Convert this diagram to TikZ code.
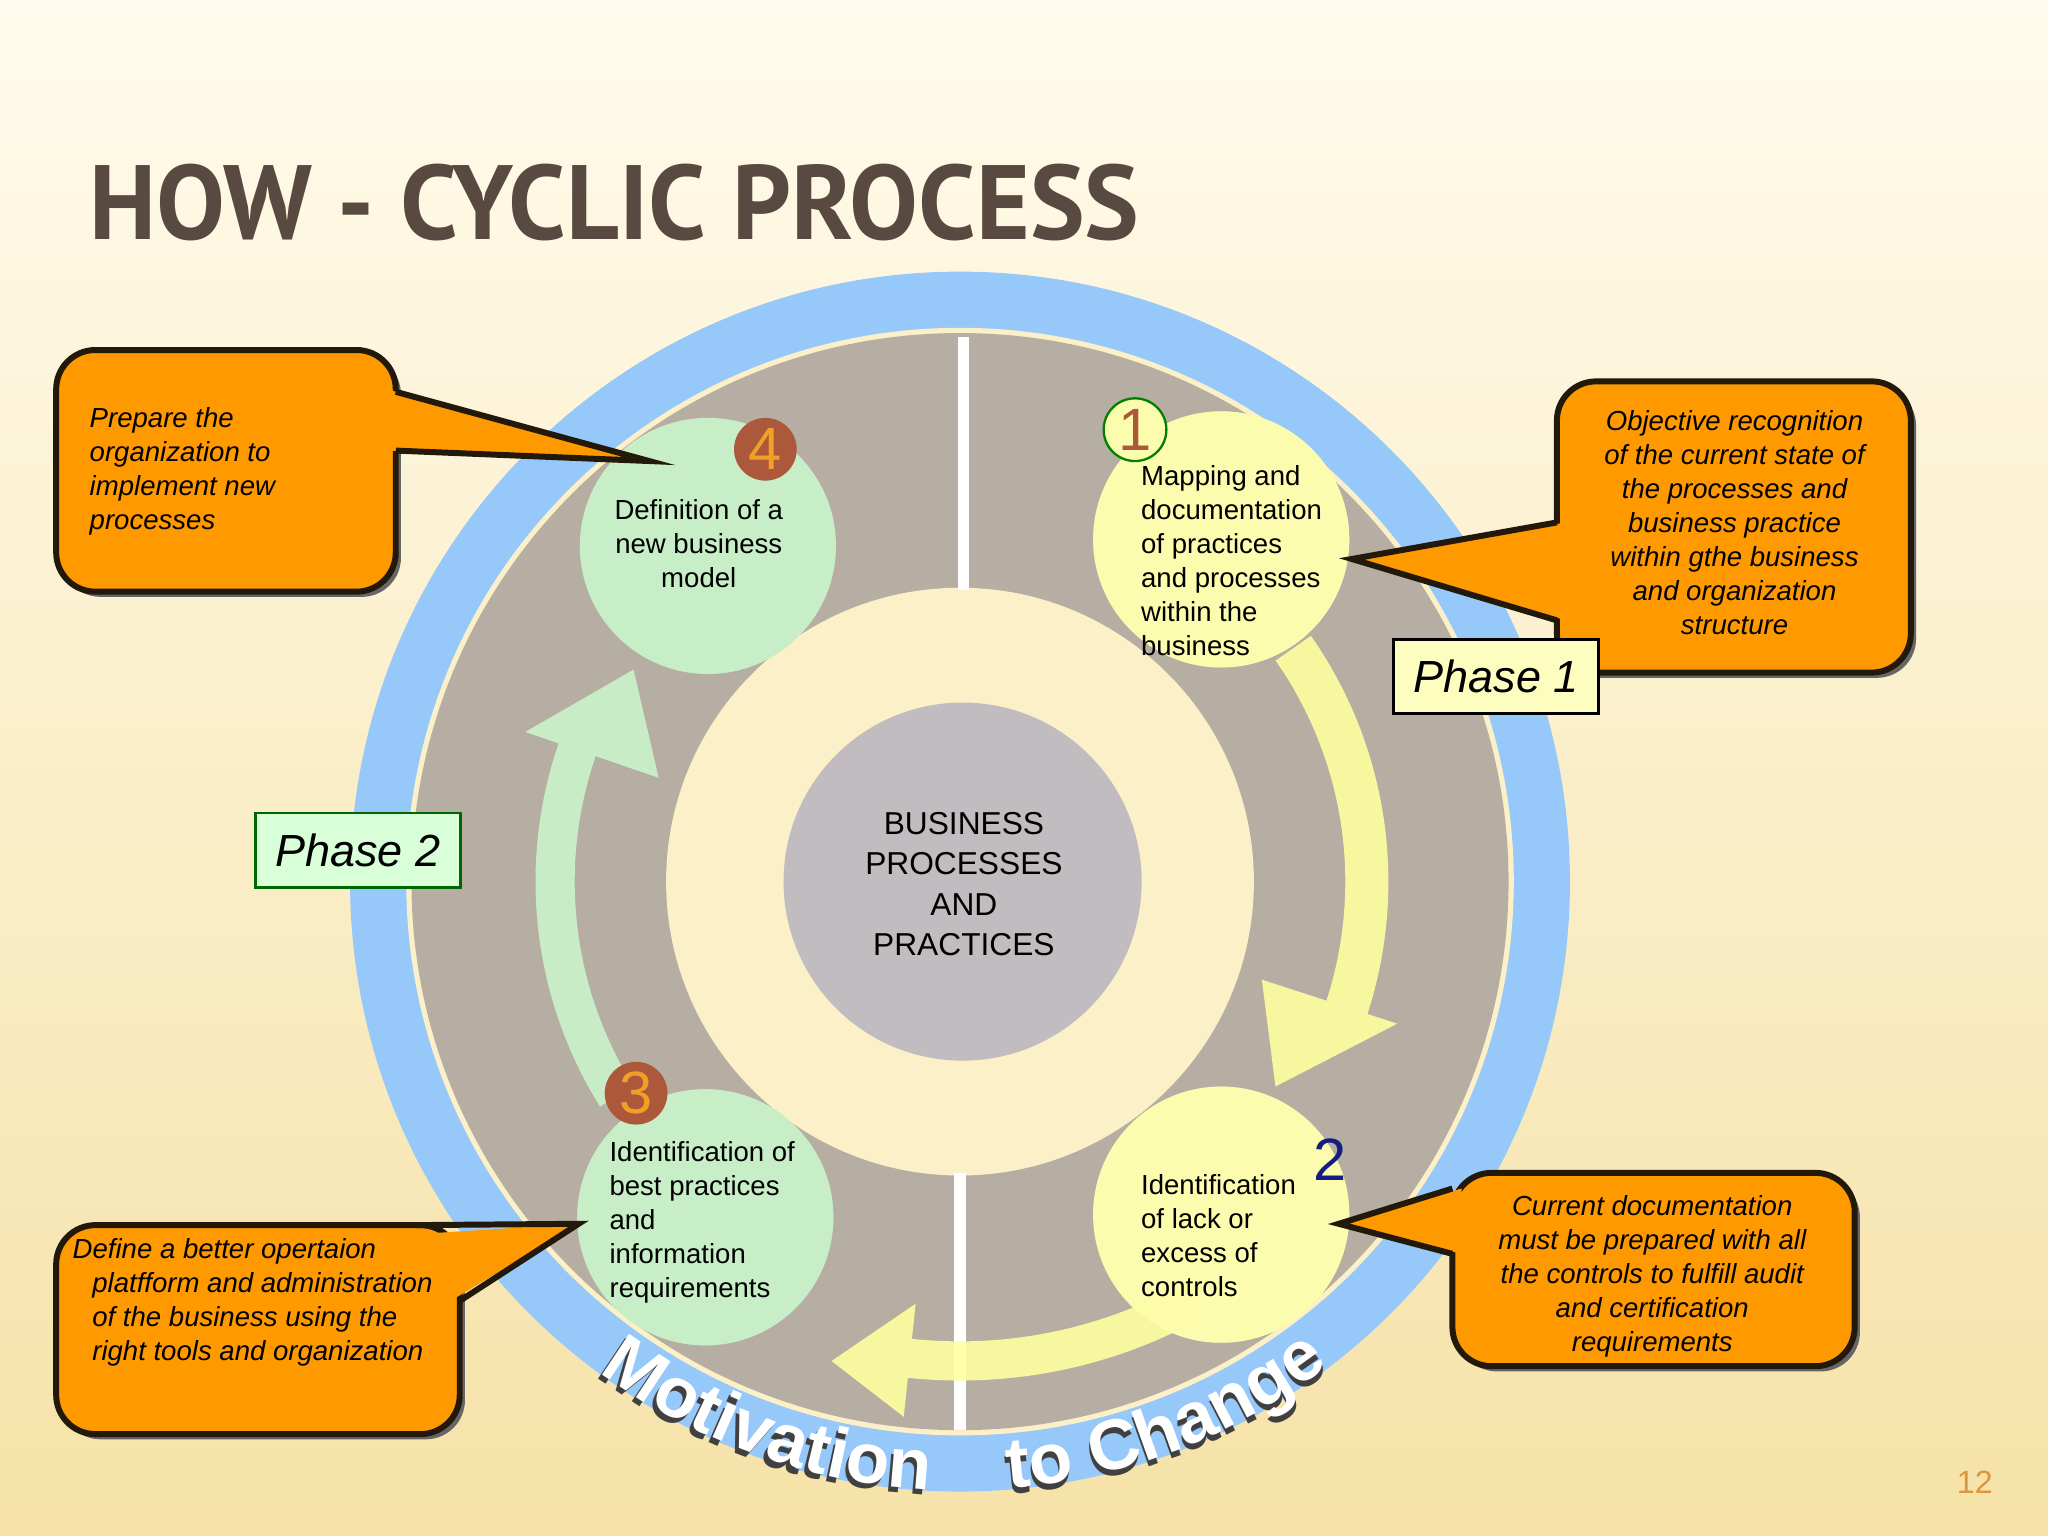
\documentclass[tikz,border=0pt]{standalone}
\usepackage{fontspec}
\setmainfont{Liberation Sans}
\newfontfamily\titlefont{PT Sans}
\usetikzlibrary{decorations.text,shadows,calc}
\definecolor{bgtop}{RGB}{255,251,236}
\definecolor{bgbot}{RGB}{246,226,168}
\definecolor{ringblue}{RGB}{150,200,250}
\definecolor{ringgray}{RGB}{182,174,162}
\definecolor{cream}{RGB}{252,240,200}
\definecolor{midgray}{RGB}{192,188,192}
\definecolor{cgreen}{RGB}{200,238,200}
\definecolor{cyellow}{RGB}{252,252,175}
\definecolor{ayellow}{RGB}{255,255,160}
\definecolor{agreen}{RGB}{200,240,200}
\definecolor{calorange}{RGB}{255,153,0}
\definecolor{caledge}{RGB}{35,25,10}
\definecolor{badgebrown}{RGB}{172,88,58}
\definecolor{numorange}{RGB}{240,160,40}
\definecolor{titlecol}{RGB}{88,74,64}
\definecolor{numblue}{RGB}{20,30,130}
\definecolor{pgnum}{RGB}{220,150,60}
\tikzset{
  body/.style={font=\fontsize{6pt}{7.4pt}\selectfont\itshape, inner sep=0pt},
  ctext/.style={font=\fontsize{6pt}{7.4pt}\selectfont, inner sep=0pt, align=left},
  callbox/.style={fill=calorange, draw=caledge, line width=1.3pt, rounded corners=0.3cm},
  shadowbox/.style={fill=black!60, rounded corners=0.3cm},
  tipedge/.style={draw=caledge, line width=1.3pt, line join=miter},
  phase/.style={font=\fontsize{9.8pt}{11pt}\selectfont\itshape, inner sep=0pt, minimum width=1.57cm, minimum height=0.57cm, line width=0.6pt},
  badge/.style={circle, minimum size=0.48cm, inner sep=0pt, font=\fontsize{13pt}{13pt}\selectfont},
}
\begin{document}
\begin{tikzpicture}[x=0.01cm,y=0.01cm]
\useasboundingbox (0,0) rectangle (1568,1176);
\shade[top color=bgtop, bottom color=bgbot] (0,0) rectangle (1568,1176);
% title
\node[anchor=west, inner sep=0pt, text=titlecol] (title) at (68,1021)
  {\titlefont\bfseries\fontsize{23pt}{23pt}\selectfont\scalebox{0.975}[1]{HOW - CYCLIC PROCESS}};
% rings
\coordinate (c) at (735,501);
\fill[ringblue] (c) circle (467);
\fill[cream] (c) circle (424);
\fill[ringgray] (c) circle (420);
\fill[cream] (c) circle (225);
\node[circle, fill=midgray, minimum size=2.74cm, inner sep=0pt] (center) at (737,501) {};
\node[align=center, font=\fontsize{6.9pt}{8.8pt}\selectfont] (centertext) at (738,499) {BUSINESS\\PROCESSES\\AND\\PRACTICES};
\draw[white, line width=2.4pt] (738,918) -- (738,724);
\draw[white, line width=2.4pt] (735,278) -- (735,81);
% phase circles
\node[circle, fill=cgreen, minimum size=1.96cm] (p4) at (542,758) {};
\node[circle, fill=cyellow, minimum size=1.96cm] (p1) at (935,763) {};
\node[circle, fill=cgreen, minimum size=1.96cm] (p3) at (540,244) {};
\node[circle, fill=cyellow, minimum size=1.96cm] (p2) at (935,246) {};
% arrows
\fill[ayellow, opacity=0.9] ($(c)+(35:295)$) arc (35:-18:295) -- ($(c)+(-18:243)$) -- ($(c)+(-33:288)$) -- ($(c)+(-18:352)$) -- ($(c)+(-18:328)$) arc (-18:35:328) -- cycle;
\fill[ayellow, opacity=0.9] ($(c)+(-60:352)$) arc (-60:-96:352) -- ($(c)+(-96:325)$) -- ($(c)+(-105:380)$) -- ($(c)+(-96:412)$) -- ($(c)+(-96:382)$) arc (-96:-60:382) -- cycle;
\fill[agreen, opacity=0.95] ($(c)+(212:295)$) arc (212:161:295) -- ($(c)+(161:244)$) -- ($(c)+(147:298)$) -- ($(c)+(161:352)$) -- ($(c)+(161:325)$) arc (161:212:325) -- cycle;
% redraw circles partly over arrows
\node[circle, fill=cyellow, minimum size=1.96cm, fill opacity=0.6] at (935,763) {};
\node[circle, fill=cgreen, minimum size=1.96cm, fill opacity=0.6] at (540,244) {};
\node[circle, fill=cyellow, minimum size=1.96cm, fill opacity=0.6] at (935,246) {};
% circle texts
\node[ctext, align=center] (t4) at (535,760) {Definition of a\\new business\\model};
\node[ctext, anchor=west] (t1) at (873,747) {Mapping and\\documentation\\of practices\\and processes\\within the\\business};
\node[ctext, anchor=west] (t3) at (466,240) {Identification of\\best practices\\and\\information\\requirements};
\node[ctext, anchor=west] (t2) at (873,230) {Identification\\of lack or\\excess of\\controls};
% badges
\node[badge, fill=badgebrown, text=numorange] (b4) at (586,832) {4};
\node[badge, fill=cyellow, draw=green!50!black, line width=0.5pt, text=badgebrown] (b1) at (869,847) {1};
\node[badge, fill=badgebrown, text=numorange] (b3) at (487,339) {3};
\node[badge, text=numblue] (b2) at (1018,288) {2};
% callouts
% TL
\fill[shadowbox] (47,719) rectangle (307,904);
\draw[callbox] (43,723) rectangle (303,908);
\fill[calorange] (296,878) -- (497,823) -- (296,831) -- cycle;
\draw[tipedge] (303,876) -- (497,823) -- (303,831);
\node[body, align=left, anchor=west] (n1) at (68,815) {Prepare the\\organization to\\implement new\\processes};
% TR
\fill[shadowbox] (1196,657) rectangle (1467,880);
\draw[callbox] (1192,661) rectangle (1463,884);
\fill[calorange] (1199,776) -- (1035,748) -- (1199,701) -- cycle;
\draw[tipedge] (1192,776) -- (1035,748) -- (1192,701);
\node[body, align=center] (n2) at (1328,776) {Objective recognition\\of the current state of\\the processes and\\business practice\\within gthe business\\and organization\\structure};
% BR
\fill[shadowbox] (1116,126) rectangle (1424,274);
\draw[callbox] (1112,130) rectangle (1420,278);
\fill[calorange] (1119,266) -- (1025,239) -- (1119,216) -- cycle;
\draw[tipedge] (1112,266) -- (1025,239) -- (1112,216);
\node[body, align=center] (n3) at (1265,199) {Current documentation\\must be prepared with all\\the controls to fulfill audit\\and certification\\requirements};
% BL
\fill[shadowbox] (47,74) rectangle (356,234);
\draw[callbox] (43,78) rectangle (352,238);
\fill[calorange] (318,231) -- (443,239) -- (345,180) -- cycle;
\draw[tipedge] (318,238) -- (443,239) -- (352,180);
\node[body, align=left, anchor=west] (n4) at (70,179) {\hspace*{-0.15cm}Define a better opertaion\\platfform and administration\\of the business using the\\right tools and organization};
% phases
\node[phase, fill=cyellow!80!white, draw=black] (ph1) at (1145.5,658) {Phase 1};
\node[phase, fill=green!15!white, draw=green!40!black] (ph2) at (274,525) {Phase 2};
% motivation text
\path[decorate, decoration={text along path, text align=center, raise=-1pt,
  text={|\fontsize{15.5pt}{15.5pt}\selectfont\bfseries\color{black!75}|Motivation{ }{ }{ }{ }to Change}}]
  ($(c)+(-129.2:467)$) arc (-129.2:-50.2:467);
\path[decorate, decoration={text along path, text align=center,
  text={|\fontsize{15.5pt}{15.5pt}\selectfont\bfseries\color{white}|Motivation{ }{ }{ }{ }to Change}}]
  ($(c)+(-129:466)$) arc (-129:-50:466);
\node[text=pgnum, font=\fontsize{7pt}{7pt}\selectfont] (pg) at (1512,41) {12};
\end{tikzpicture}
\end{document}
